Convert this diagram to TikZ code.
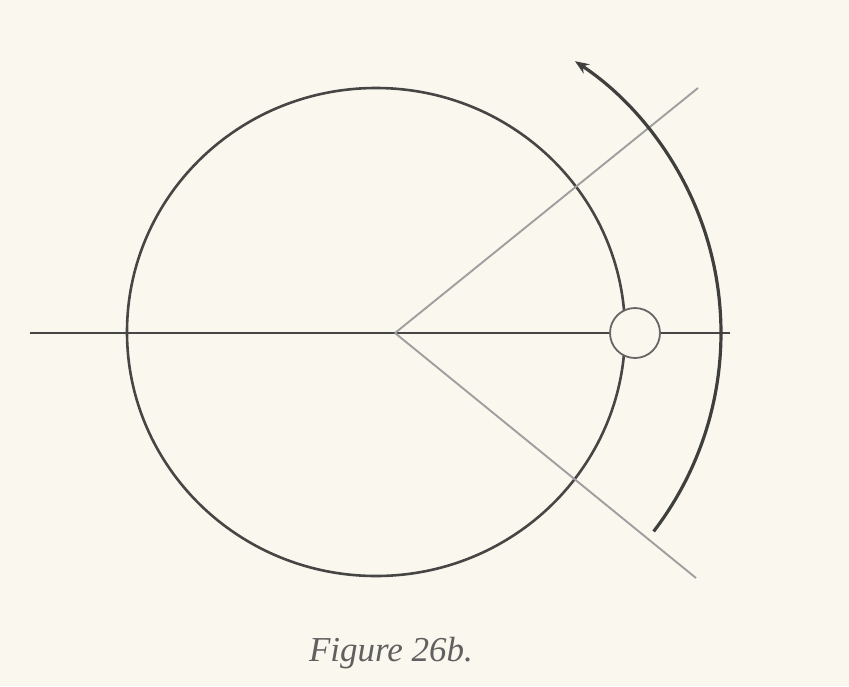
\documentclass[tikz,border=0pt]{standalone}
\usepackage{fontspec}
\setmainfont{Liberation Serif}
\usetikzlibrary{arrows.meta}
\definecolor{paper}{RGB}{250,247,238}
\definecolor{ink}{RGB}{70,70,68}
\begin{document}
\begin{tikzpicture}[
    x=1pt, y=1pt,
    axis line/.style={draw=ink, line width=1.8pt},
    ray line/.style={draw=gray!75, line width=1.9pt},
    main circle/.style={draw=ink, line width=2.6pt},
    marker/.style={draw=gray!80!black, line width=1.8pt, fill=paper},
    turn arc/.style={-{Stealth[length=14pt, width=11pt]}, draw=ink!90!black, line width=3.2pt},
    caption/.style={font=\itshape\fontsize{35}{35}\selectfont, text=gray!75!black}
]

% Fond et cadre
\fill[paper] (0,0) rectangle (849,-686);
\useasboundingbox (0,0) rectangle (849,-686);

% ------------------------------------------------------------------------------
% 1. POINTS DE RÉFÉRENCE
% ------------------------------------------------------------------------------
\coordinate (vertex) at (395,-333);
\coordinate (centre) at (376,-332);
\coordinate (west) at (30,-333);
\coordinate (east) at (730,-333);
\coordinate (upper end) at (698,-88);
\coordinate (lower end) at (696,-578);
\coordinate (ball) at (635,-333);

% ------------------------------------------------------------------------------
% 2. CERCLE ET DROITES
% ------------------------------------------------------------------------------
\draw[main circle] (centre) ellipse[x radius=249pt, y radius=244pt];
\draw[axis line] (west) -- (east);
\draw[ray line] (vertex) -- (upper end);
\draw[ray line] (vertex) -- (lower end);

% petit cercle sur l'axe
\draw[marker] (ball) circle[radius=25pt];

% ------------------------------------------------------------------------------
% 3. ARC DE ROTATION
% ------------------------------------------------------------------------------
\draw[turn arc] (vertex) ++(-37.5:326pt) arc[start angle=-37.5, end angle=56.5, radius=326pt];

% Légende
\node[caption] (label) at (391,-653) {Figure 26b.};

\end{tikzpicture}
\end{document}
